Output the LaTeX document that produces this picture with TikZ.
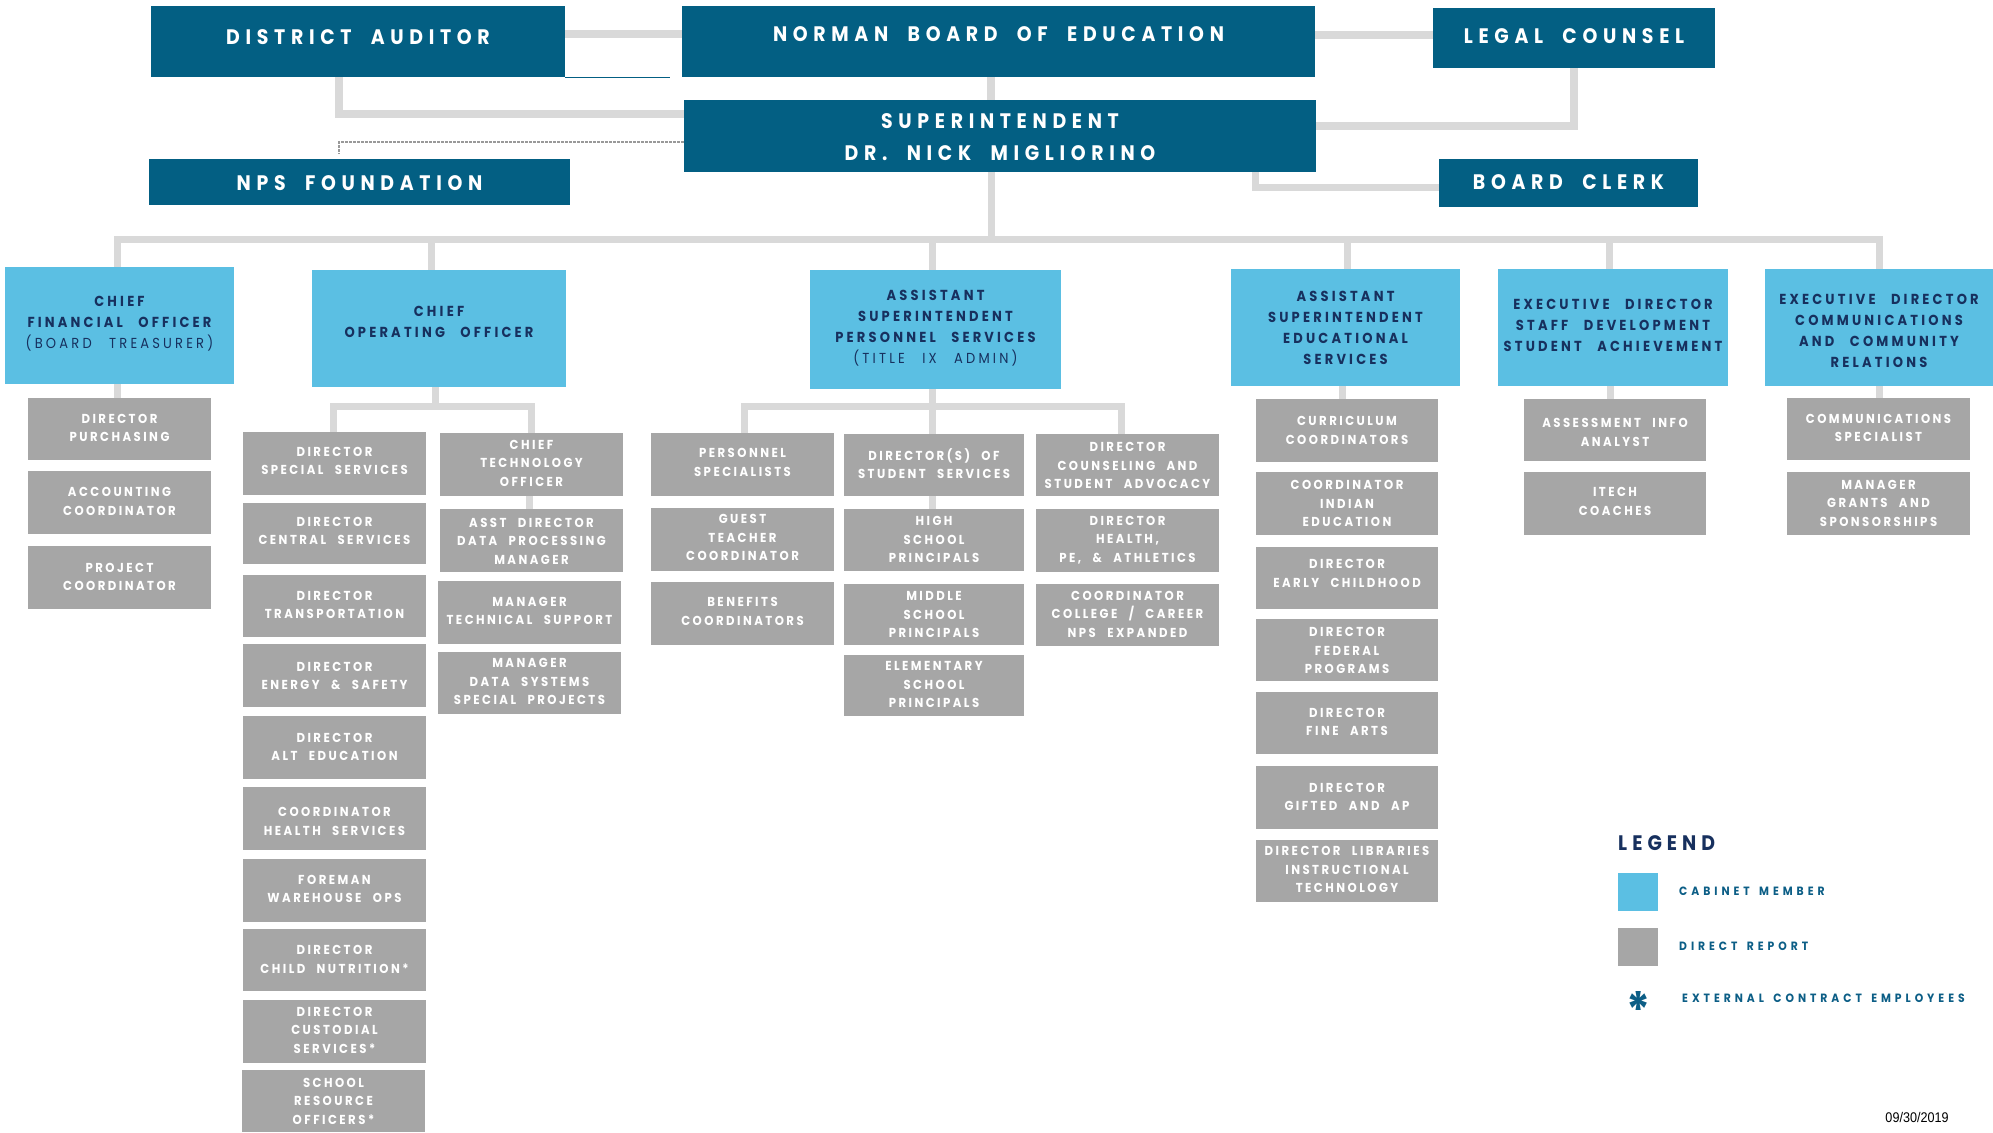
\documentclass[tikz,border=0pt]{standalone}
\usepackage{fontspec}
\usetikzlibrary{calc}
\newfontfamily\hdrfont[LetterSpace=27,FakeStretch=0.9,WordSpace=2]{Poppins}
\newfontfamily\cabfont[LetterSpace=22,FakeStretch=0.9,WordSpace=2.6]{Poppins}
\newfontfamily\gfont[LetterSpace=19,FakeStretch=0.9,WordSpace=2.3]{Poppins}
\newfontfamily\legfont[LetterSpace=33,FakeStretch=0.9,WordSpace=1.5]{Poppins}
\newfontfamily\legtfont[LetterSpace=24,FakeStretch=0.9]{Poppins}
\newfontfamily\datefont[FakeStretch=0.9]{Liberation Sans}
\definecolor{hdrblue}{HTML}{035F83}
\definecolor{cabblue}{HTML}{5BBFE3}
\definecolor{navy}{HTML}{17305E}
\definecolor{grayb}{HTML}{A6A6A6}
\definecolor{connc}{HTML}{D9D9D9}
\definecolor{legtxt}{HTML}{0C5E86}
\definecolor{dotc}{HTML}{999999}
\pgfdeclarelayer{background}
\pgfsetlayers{background,main}
\tikzset{
  box/.style={rectangle, inner sep=0pt, draw=none},
  hdr/.style={box, fill=hdrblue},
  hdr text/.style={text=white, inner sep=0pt, align=center, font=\hdrfont\bfseries\fontsize{21}{31.5}\selectfont},
  cab/.style={box, fill=cabblue},
  cab text/.style={text=navy, inner sep=0pt, align=center, font=\cabfont\bfseries\fontsize{14.5}{21}\selectfont},
  gb/.style={box, fill=grayb},
  gb text/.style={text=white, inner sep=0pt, align=center, font=\gfont\bfseries\fontsize{13}{18.5}\selectfont},
  conn/.style={draw=connc, line width=7pt},
  connw/.style={draw=connc, line width=8pt},
  dotl/.style={draw=dotc, line width=2.5pt, dash pattern=on 2.5pt off 1.5pt},
  leg text/.style={text=legtxt, inner sep=0pt, anchor=west, font=\legfont\bfseries\fontsize{12}{14}\selectfont},
}
\newcommand{\orgbox}[8]{%
  \node[#1, minimum width={(#5)*1pt-(#3)*1pt}, minimum height={(#6)*1pt-(#4)*1pt}] (#2) at ({(#3+#5)/2},{(#4+#6)/2}) {};
  \node[#1 text] (#2-t) at ({(#3+#5)/2},#7) {#8};
}
\begin{document}
\begin{tikzpicture}[x=1pt,y=-1pt]
\useasboundingbox (0,0) rectangle (1993,1132);
% ---------- top level ----------
\orgbox{hdr}{aud}{151}{6}{565}{77}{37}{DISTRICT AUDITOR}
\orgbox{hdr}{board}{682}{6}{1315}{77}{34}{NORMAN BOARD OF EDUCATION}
\orgbox{hdr}{legal}{1433}{8}{1715}{68}{36}{LEGAL COUNSEL}
\orgbox{hdr}{supt}{684}{100}{1316}{172}{137}{SUPERINTENDENT\\DR. NICK MIGLIORINO}
\orgbox{hdr}{npsf}{149}{159}{570}{205}{183}{NPS FOUNDATION}
\orgbox{hdr}{clerk}{1439}{159}{1698}{207}{182}{BOARD CLERK}
% ---------- cabinet ----------
\orgbox{cab}{cfo}{5}{267}{234}{384}{324}{CHIEF\\FINANCIAL OFFICER\\{\mdseries (BOARD TREASURER)}}
\orgbox{cab}{coo}{312}{270}{566}{387}{321.5}{CHIEF\\OPERATING OFFICER}
\orgbox{cab}{asp}{810}{270}{1061}{389}{328.5}{ASSISTANT\\SUPERINTENDENT\\PERSONNEL SERVICES\\{\mdseries (TITLE IX ADMIN)}}
\orgbox{cab}{ase}{1231}{269}{1460}{386}{328}{ASSISTANT\\SUPERINTENDENT\\EDUCATIONAL\\SERVICES}
\orgbox{cab}{eds}{1498}{269}{1728}{386}{325.5}{EXECUTIVE DIRECTOR\\STAFF DEVELOPMENT\\STUDENT ACHIEVEMENT}
\orgbox{cab}{edc}{1765}{269}{1993}{386}{330.5}{EXECUTIVE DIRECTOR\\COMMUNICATIONS\\AND COMMUNITY\\RELATIONS}
% ---------- CFO reports ----------
\orgbox{gb}{purch}{28}{398}{211}{460}{428}{DIRECTOR\\PURCHASING}
\orgbox{gb}{acct}{28}{471}{211}{534}{501.5}{ACCOUNTING\\COORDINATOR}
\orgbox{gb}{proj}{28}{546}{211}{609}{577}{PROJECT\\COORDINATOR}
% ---------- COO reports ----------
\orgbox{gb}{dss}{243}{432}{426}{495}{461}{DIRECTOR\\SPECIAL SERVICES}
\orgbox{gb}{dcs}{243}{503}{426}{564}{531}{DIRECTOR\\CENTRAL SERVICES}
\orgbox{gb}{dtr}{243}{575}{426}{637}{605}{DIRECTOR\\TRANSPORTATION}
\orgbox{gb}{des}{243}{644}{426}{707}{676}{DIRECTOR\\ENERGY \& SAFETY}
\orgbox{gb}{dae}{243}{716}{426}{779}{747}{DIRECTOR\\ALT EDUCATION}
\orgbox{gb}{chs}{243}{787}{426}{850}{821.5}{COORDINATOR\\HEALTH SERVICES}
\orgbox{gb}{fwo}{243}{859}{426}{922}{889}{FOREMAN\\WAREHOUSE OPS}
\orgbox{gb}{dcn}{243}{929}{426}{991}{959.5}{DIRECTOR\\CHILD NUTRITION*}
\orgbox{gb}{dcu}{243}{1000}{426}{1063}{1030}{DIRECTOR\\CUSTODIAL\\SERVICES*}
\orgbox{gb}{sro}{242}{1070}{425}{1132}{1101}{SCHOOL\\RESOURCE\\OFFICERS*}
\orgbox{gb}{cto}{440}{433}{623}{496}{463}{CHIEF\\TECHNOLOGY\\OFFICER}
\orgbox{gb}{adp}{440}{509}{623}{572}{541}{ASST DIRECTOR\\DATA PROCESSING\\MANAGER}
\orgbox{gb}{mts}{438}{581}{621}{644}{611}{MANAGER\\TECHNICAL SUPPORT}
\orgbox{gb}{mds}{438}{652}{621}{714}{681.5}{MANAGER\\DATA SYSTEMS\\SPECIAL PROJECTS}
% ---------- Personnel reports ----------
\orgbox{gb}{pspec}{651}{433}{834}{496}{462.5}{PERSONNEL\\SPECIALISTS}
\orgbox{gb}{gtc}{651}{508}{834}{571}{537.5}{GUEST\\TEACHER\\COORDINATOR}
\orgbox{gb}{benc}{651}{582}{834}{645}{611.5}{BENEFITS\\COORDINATORS}
\orgbox{gb}{dss2}{844}{434}{1024}{496}{463.5}{DIRECTOR(S) OF\\STUDENT SERVICES}
\orgbox{gb}{hsp}{844}{509}{1024}{571}{539.5}{HIGH\\SCHOOL\\PRINCIPALS}
\orgbox{gb}{msp}{844}{584}{1024}{645}{614.5}{MIDDLE\\SCHOOL\\PRINCIPALS}
\orgbox{gb}{esp}{844}{655}{1024}{716}{684.5}{ELEMENTARY\\SCHOOL\\PRINCIPALS}
\orgbox{gb}{dcsa}{1036}{434}{1219}{496}{465.5}{DIRECTOR\\COUNSELING AND\\STUDENT ADVOCACY}
\orgbox{gb}{dhpe}{1036}{509}{1219}{572}{540}{DIRECTOR\\HEALTH,\\PE, \& ATHLETICS}
\orgbox{gb}{ccc}{1036}{584}{1219}{646}{614}{COORDINATOR\\COLLEGE / CAREER\\NPS EXPANDED}
% ---------- Educational services reports ----------
\orgbox{gb}{cc}{1256}{399}{1438}{462}{430.5}{CURRICULUM\\COORDINATORS}
\orgbox{gb}{cie}{1256}{472}{1438}{535}{503.5}{COORDINATOR\\INDIAN\\EDUCATION}
\orgbox{gb}{dec}{1256}{547}{1438}{609}{573.5}{DIRECTOR\\EARLY CHILDHOOD}
\orgbox{gb}{dfp}{1256}{619}{1438}{681}{650.5}{DIRECTOR\\FEDERAL\\PROGRAMS}
\orgbox{gb}{dfa}{1256}{692}{1438}{754}{722}{DIRECTOR\\FINE ARTS}
\orgbox{gb}{dga}{1256}{766}{1438}{829}{797}{DIRECTOR\\GIFTED AND AP}
\orgbox{gb}{dlit}{1256}{840}{1438}{902}{869.5}{DIRECTOR LIBRARIES\\INSTRUCTIONAL\\TECHNOLOGY}
% ---------- Staff development reports ----------
\orgbox{gb}{aia}{1524}{399}{1706}{461}{432.5}{ASSESSMENT INFO\\ANALYST}
\orgbox{gb}{itc}{1524}{472}{1706}{535}{501.5}{ITECH\\COACHES}
% ---------- Communications reports ----------
\orgbox{gb}{csp}{1787}{398}{1970}{460}{428}{COMMUNICATIONS\\SPECIALIST}
\orgbox{gb}{mgs}{1787}{472}{1970}{535}{503}{MANAGER\\GRANTS AND\\SPONSORSHIPS}
% ---------- legend ----------
\node[text=navy, inner sep=0pt, anchor=west, font=\legtfont\bfseries\fontsize{21}{21}\selectfont] (legT) at (1618,843) {LEGEND};
\node[cab, minimum width=40pt, minimum height=38pt] (legB) at (1638,892) {};
\node[leg text] (legBT) at (1679,891) {CABINET MEMBER};
\node[gb, minimum width=40pt, minimum height=38pt] (legG) at (1638,947) {};
\node[leg text] (legGT) at (1679,946) {DIRECT REPORT};
\node[text=legtxt, inner sep=0pt, anchor=base, font=\legtfont\bfseries\fontsize{50}{50}\selectfont] (legS) at (1638,1028) {*};
\node[leg text] (legST) at (1682,998) {EXTERNAL CONTRACT EMPLOYEES};
\node[text=black, inner sep=0pt, font=\datefont\fontsize{14}{15}\selectfont] (date) at (1917,1117) {09/30/2019};
% ---------- connectors ----------
\begin{pgfonlayer}{background}
\coordinate (yA) at (0,34);
\coordinate (yL) at (0,35);
\coordinate (yS) at (0,125.5);
\coordinate (mx) at (991,0);
\coordinate (ax) at (339,114);
\coordinate (dotY) at (0,142);
\coordinate (dotEnd) at (339,154);
\coordinate (bc) at (1255.5,187);
\coordinate (busL) at (114,239.5);
\coordinate (busR) at (1882.5,239.5);
\coordinate (c1) at (117.5,0);
\coordinate (c2) at (431,0);
\coordinate (c3) at (932,0);
\coordinate (c4) at (1347,0);
\coordinate (c5) at (1609,0);
\coordinate (c6) at (1879,0);
\coordinate (cooX) at (435,406);
\coordinate (cooL) at (333,406);
\coordinate (cooR) at (531,406);
\coordinate (ctoX) at (529,0);
\coordinate (aspL) at (744,406);
\coordinate (aspM) at (932,406);
\coordinate (aspR) at (1121,406);
\coordinate (edX) at (1342,0);
\coordinate (sdX) at (1610,0);
\coordinate (cmX) at (1879,0);
\draw[connw] (aud.east |- yA) -- (board.west |- yA);
\draw[connw] (board.east |- yL) -- (legal.west |- yL);
\draw[connw] (legal.south) |- (supt.east |- yS);
\draw[connw] (board.south -| mx) -- (supt.north -| mx);
\draw[connw] (aud.south -| ax) |- (supt.west |- ax);
\draw[dotl] (supt.west |- dotY) -| (dotEnd);
\draw[conn] (supt.south -| bc) |- (clerk.west |- bc);
\draw[hdrblue, line width=1pt] (aud.south east) -- ++(105,0);
\draw[conn] (supt.south -| mx) -- (mx |- busL);
\draw[conn] (busL) -- (busR);
\draw[conn] (c1 |- busL) -- (cfo.north -| c1);
\draw[conn] (c2 |- busL) -- (coo.north -| c2);
\draw[conn] (c3 |- busL) -- (asp.north -| c3);
\draw[conn] (c4 |- busL) -- (ase.north -| c4);
\draw[conn] (c5 |- busL) -- (eds.north -| c5);
\draw[conn] (c6 |- busL) -- (edc.north -| c6);
\draw[conn] (cfo.south -| c1) -- (purch.north -| c1);
\draw[conn] (coo.south -| cooX) -- (cooX);
\draw[conn] (dss.north -| cooL) -- (cooL) -- (cooR) -- (cto.north -| cooR);
\draw[conn] (cto.south -| ctoX) -- (adp.north -| ctoX);
\draw[conn] (pspec.north -| aspL) -- (aspL) -- (aspR) -- (dcsa.north -| aspR);
\draw[conn] (asp.south -| aspM) -- (dss2.north -| aspM);
\draw[conn] (dss2.south -| aspM) -- (hsp.north -| aspM);
\draw[conn] (ase.south -| edX) -- (cc.north -| edX);
\draw[conn] (eds.south -| sdX) -- (aia.north -| sdX);
\draw[conn] (edc.south -| cmX) -- (csp.north -| cmX);
\end{pgfonlayer}
\end{tikzpicture}
\end{document}
